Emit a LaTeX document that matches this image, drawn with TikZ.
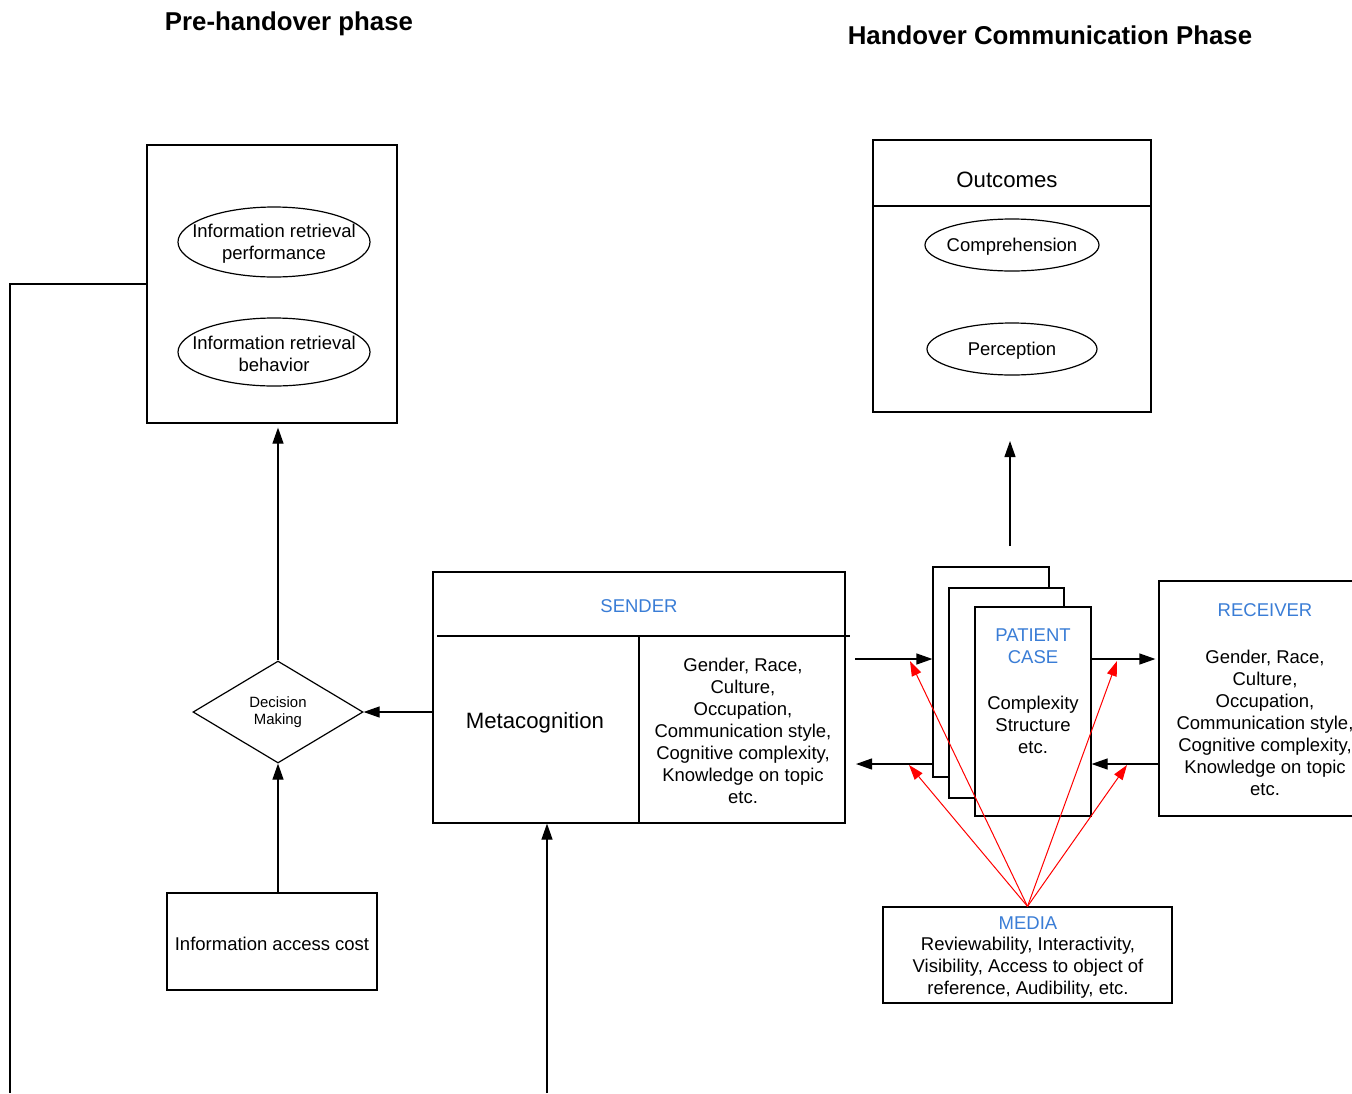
\documentclass[tikz,border=0pt]{standalone}
\usepackage{fontspec}
\setmainfont{Liberation Sans}
\usetikzlibrary{shapes.geometric,arrows.meta}
\definecolor{hdrblue}{RGB}{58,125,214}
\begin{document}
\begin{tikzpicture}[x=1pt,y=-1pt,
  line width=1.2pt,
  body/.style={font=\fontsize{18.5}{22}\selectfont, align=center, inner sep=0, yshift=-1.5pt},
  big/.style={font=\fontsize{22.2}{26}\selectfont, inner sep=0, yshift=-2pt},
  title/.style={font=\bfseries\fontsize{25.8}{30}\selectfont, inner sep=0, yshift=-2.5pt},
  frame/.style={draw, fill=white, rectangle, inner sep=0},
  oval/.style={draw, ellipse, inner sep=0},
  hdr/.style={font=\fontsize{18.5}{22}\selectfont, text=hdrblue, align=center, inner sep=0, yshift=-1.5pt},
  flow/.style={-{Triangle[length=16pt,width=11pt]}},
  mediaflow/.style={draw=red, line width=1pt, -{Triangle[length=15pt,width=10pt]}, red},
]
\useasboundingbox (0,0) rectangle (1352,1093);

% phase titles
\node[title] (t1) at (289,21) {Pre-handover phase};
\node[title] (t2) at (1050,33) {Handover Communication Phase};

% ---------- pre-handover phase ----------
\node[frame, minimum width=250pt, minimum height=278pt] (pre) at (272,284) {};
\node[oval, minimum width=192pt, minimum height=70pt] (irp) at (274,242) {};
\node[body] (irpt) at (irp) {Information retrieval\\performance};
\node[oval, minimum width=192pt, minimum height=68pt] (irb) at (274,352) {};
\node[body] (irbt) at (irb) {Information retrieval\\behavior};

\node[draw, diamond, minimum width=170pt, minimum height=102pt, inner sep=0,
      font=\fontsize{14.9}{17}\selectfont, align=center] (dm) at (278,712) {Decision\\Making};

\node[frame, minimum width=210pt, minimum height=97pt] (iac) at (272,941.5) {};
\node[body] (iact) at (272,942) {Information access cost};

% feedback line down the left side
\coordinate (fbend) at (10,284);
\coordinate (fbfoot) at (10,1093);
\draw (pre.west) -- (fbend) -- (fbfoot);

\draw[flow] (iac.north -| dm.south) -- (dm.south);
\draw[flow, shorten >=4pt] (dm.north) -- (dm.north |- pre.south);

% ---------- sender ----------
\node[frame, minimum width=412pt, minimum height=251pt] (snd) at (639,697.5) {};
\draw (437,636) -- (850,636);
\draw (snd.south |- 0,636) -- (snd.south);
\node[hdr] (sndh) at (639,605) {SENDER};
\node[big] (meta) at (535,721) {Metacognition};
\node[body] (sndt) at (743,729) {Gender, Race,\\Culture,\\Occupation,\\Communication style,\\Cognitive complexity,\\Knowledge on topic\\etc.};

\draw[flow] (snd.west |- dm.east) -- (dm.east);
\coordinate (sfoot) at (547,1093);
\draw[flow] (sfoot) -- (sfoot |- snd.south);

% ---------- outcomes ----------
\node[frame, minimum width=278pt, minimum height=272pt] (out) at (1012,276) {};
\draw (out.west |- 0,206) -- (out.east |- 0,206);
\node[big] (outt) at (1007,178) {Outcomes};
\node[oval, minimum width=174pt, minimum height=52pt] (comp) at (1012,245) {};
\node[body] (compt) at (comp) {Comprehension};
\node[oval, minimum width=170pt, minimum height=52pt] (perc) at (1012,349) {};
\node[body] (perct) at (perc) {Perception};

\coordinate (oa) at (1010,546);
\coordinate (ob) at (1010,441);
\draw[flow] (oa) -- (ob);

% ---------- patient case (stacked sheets) ----------
\node[frame, minimum width=116pt, minimum height=210pt] (pc3) at (991,672) {};
\node[frame, minimum width=115pt, minimum height=210pt] (pc2) at (1006.5,693) {};
\node[frame, minimum width=116pt, minimum height=209pt] (pc1) at (1033,711.5) {};
\node[hdr] (pch) at (1033,645) {PATIENT\\CASE};
\node[body] (pct) at (1033,723.5) {Complexity\\Structure\\etc.};

% ---------- receiver ----------
\node[frame, minimum width=212pt, minimum height=235pt] (rcv) at (1265,698.5) {};
\node[hdr] (rcvh) at (1265,609) {RECEIVER};
\node[body] (rcvt) at (1265,721.5) {Gender, Race,\\Culture,\\Occupation,\\Communication style,\\Cognitive complexity,\\Knowledge on topic\\etc.};

% message exchange
\coordinate (sa) at (855,659);
\coordinate (sb) at (856,764);
\draw[flow] (sa) -- (sa -| pc3.west);
\draw[flow] (sb -| pc3.west) -- (sb);
\draw[flow, shorten >=3pt] (pc1.east |- sa) -- (rcv.west |- sa);
\draw[flow] (rcv.west |- sb) -- (pc1.east |- sb);

% ---------- media ----------
\node[frame, minimum width=289pt, minimum height=96pt] (med) at (1027.5,955) {};
\node[hdr] (medh) at (1028,922) {MEDIA};
\node[body] (medt) at (1028,966) {Reviewability, Interactivity,\\Visibility, Access to object of\\reference, Audibility, etc.};

\coordinate (r1) at (910,661);
\coordinate (r2) at (1117,661);
\coordinate (r3) at (909,765);
\coordinate (r4) at (1127,765);
\draw[mediaflow] (med.north) -- (r1);
\draw[mediaflow] (med.north) -- (r2);
\draw[mediaflow] (med.north) -- (r3);
\draw[mediaflow] (med.north) -- (r4);
\end{tikzpicture}
\end{document}
